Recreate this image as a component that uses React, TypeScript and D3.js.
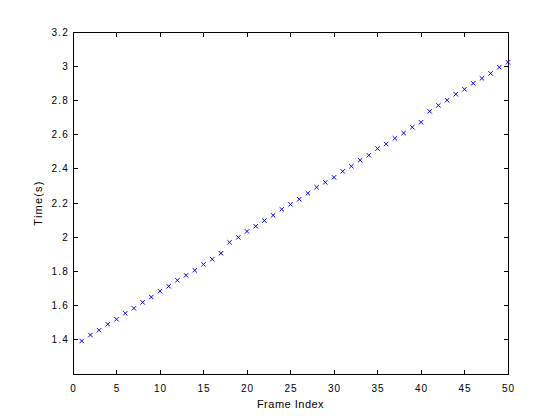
import React from "react";
import * as d3 from "d3";

const frames: number[] = d3.range(1, 51);
const times: number[] = [
  1.393, 1.428, 1.456, 1.491, 1.520, 1.555, 1.584, 1.619, 1.650, 1.684,
  1.713, 1.748, 1.777, 1.806, 1.841, 1.871, 1.906, 1.970, 1.999, 2.034,
  2.064, 2.097, 2.128, 2.163, 2.192, 2.222, 2.257, 2.292, 2.321, 2.350,
  2.385, 2.415, 2.450, 2.479, 2.518, 2.545, 2.578, 2.609, 2.643, 2.672,
  2.736, 2.771, 2.801, 2.836, 2.865, 2.900, 2.929, 2.958, 2.994, 3.023,
];
const xTicks: number[] = [0, 5, 10, 15, 20, 25, 30, 35, 40, 45, 50];
const yTicks: number[] = [1.4, 1.6, 1.8, 2, 2.2, 2.4, 2.6, 2.8, 3, 3.2];
const xLabel = "Frame Index";
const yLabel = "Time(s)";

export default function App() {
  const W = 560, H = 420;
  const left = 73, right = 508, top = 32, bottom = 374;
  const x = d3.scaleLinear().domain([0, 50]).range([left, right]);
  const y = d3.scaleLinear().domain([1.2, 3.2]).range([bottom, top]);
  const font = "'Liberation Sans', Arial, Helvetica, sans-serif";
  const tl = 4.5;
  const r = 2.2;
  return (
    <svg width={W} height={H} style={{ position: "absolute", left: 0, top: 0, background: "#fff" }}>
      <rect x={0} y={0} width={W} height={H} fill="#fff" />
      <g shapeRendering="crispEdges" stroke="#000" strokeWidth={1}>
        <rect x={left} y={top} width={right - left} height={bottom - top} fill="none" />
        {xTicks.map((t) => (
          <g key={"xt" + t}>
            <line x1={x(t)} x2={x(t)} y1={bottom} y2={bottom - tl} />
            <line x1={x(t)} x2={x(t)} y1={top} y2={top + tl} />
          </g>
        ))}
        {yTicks.map((t) => (
          <g key={"yt" + t}>
            <line x1={left} x2={left + tl} y1={y(t)} y2={y(t)} />
            <line x1={right} x2={right - tl} y1={y(t)} y2={y(t)} />
          </g>
        ))}
      </g>
      <g fontFamily={font} fontSize={10} fill="#000">
        {xTicks.map((t) => (
          <text key={"xl" + t} x={x(t) + 0.5} y={392} textAnchor="middle" letterSpacing={1}>
            {String(t)}
          </text>
        ))}
        {yTicks.map((t) => (
          <text key={"yl" + t} x={69} y={y(t) + 3.5} textAnchor="end" letterSpacing={1.2}>
            {String(t)}
          </text>
        ))}
        <text x={(left + right) / 2} y={408} textAnchor="middle" fontSize={11} letterSpacing={0.5}>
          {xLabel}
        </text>
        <text
          transform={`translate(${42},${(top + bottom) / 2}) rotate(-90)`}
          textAnchor="middle"
          fontSize={11}
          letterSpacing={1.2}
        >
          {yLabel}
        </text>
      </g>
      <g stroke="#0000ff" strokeWidth={1} fill="none">
        {frames.map((f, i) => {
          const cx = x(f), cy = y(times[i]);
          return (
            <path
              key={"m" + f}
              d={`M${cx - r},${cy - r}L${cx + r},${cy + r}M${cx - r},${cy + r}L${cx + r},${cy - r}`}
            />
          );
        })}
      </g>
    </svg>
  );
}
